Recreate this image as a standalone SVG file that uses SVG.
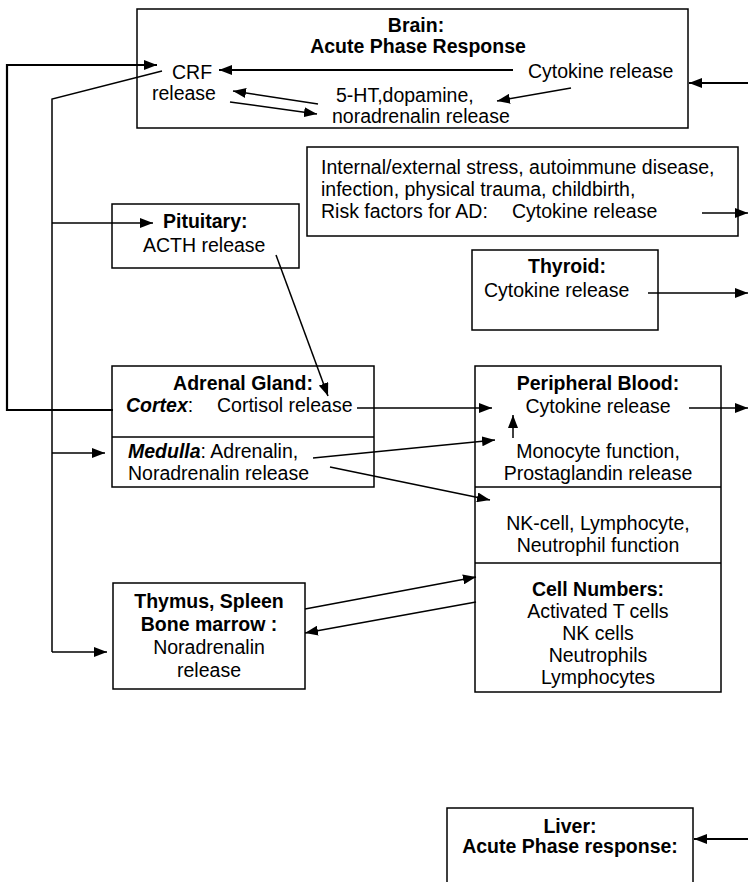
<svg xmlns="http://www.w3.org/2000/svg" width="748" height="882" viewBox="0 0 748 882">
<defs>
<marker id="ah" markerWidth="13" markerHeight="10" refX="13" refY="5" orient="auto" markerUnits="userSpaceOnUse">
<path d="M0,0 L13,5 L0,10 z" fill="#000"/>
</marker>
<style>
text{font-family:"Liberation Sans",Arial,sans-serif;font-size:19.5px;fill:#000}
.b{font-weight:bold}
.bi{font-weight:bold;font-style:italic}
.c{text-anchor:middle}
.box{fill:#fff;stroke:#000;stroke-width:1.5}
.div{stroke:#000;stroke-width:1.5}
.ln{fill:none;stroke:#000;stroke-width:1.5}
.th{fill:none;stroke:#000;stroke-width:2.2}
.a{marker-end:url(#ah)}
</style>
</defs>
<rect width="748" height="882" fill="#fff"/>

<g id="brain">
<rect class="box" x="137" y="9" width="551" height="119"/>
<text class="b c" x="416" y="32">Brain:</text>
<text class="b c" x="418" y="53">Acute Phase Response</text>
<text x="172" y="79">CRF</text>
<text x="152" y="100">release</text>
<text x="528" y="78">Cytokine release</text>
<text x="336" y="102">5-HT,dopamine,</text>
<text x="332" y="123">noradrenalin release</text>
</g>

<g id="stressors">
<rect class="box" x="307" y="147" width="431" height="89"/>
<text x="321" y="174">Internal/external stress, autoimmune disease,</text>
<text x="321" y="196">infection, physical trauma, childbirth,</text>
<text x="321" y="218">Risk factors for AD:</text>
<text x="512" y="218">Cytokine release</text>
</g>

<g id="pituitary">
<rect class="box" x="112" y="204" width="187" height="64"/>
<text class="b" x="163" y="228">Pituitary:</text>
<text x="143" y="252">ACTH release</text>
</g>

<g id="thyroid">
<rect class="box" x="472" y="250" width="186" height="80"/>
<text class="b c" x="567" y="273">Thyroid:</text>
<text x="484" y="297">Cytokine release</text>
</g>

<g id="adrenal">
<rect class="box" x="112" y="366" width="262" height="121"/>
<line class="div" x1="112" y1="437" x2="374" y2="437"/>
<text class="b c" x="243" y="390">Adrenal Gland:</text>
<text x="126" y="412"><tspan class="bi">Cortex</tspan>:</text>
<text x="217" y="412">Cortisol release</text>
<text x="128" y="458"><tspan class="bi">Medulla</tspan>: Adrenalin,</text>
<text x="128" y="480">Noradrenalin release</text>
</g>

<g id="blood">
<rect class="box" x="475" y="366" width="246" height="326"/>
<line class="div" x1="475" y1="487" x2="721" y2="487"/>
<line class="div" x1="475" y1="563" x2="721" y2="563"/>
<text class="b c" x="598" y="390">Peripheral Blood:</text>
<text class="c" x="598" y="413">Cytokine release</text>
<text class="c" x="598" y="458">Monocyte function,</text>
<text class="c" x="598" y="480">Prostaglandin release</text>
<text class="c" x="598" y="530">NK-cell, Lymphocyte,</text>
<text class="c" x="598" y="552">Neutrophil function</text>
<text class="b c" x="598" y="596">Cell Numbers:</text>
<text class="c" x="598" y="618">Activated T cells</text>
<text class="c" x="598" y="640">NK cells</text>
<text class="c" x="598" y="662">Neutrophils</text>
<text class="c" x="598" y="684">Lymphocytes</text>
</g>

<g id="thymus">
<rect class="box" x="113" y="583" width="192" height="106"/>
<text class="b c" x="209" y="608">Thymus, Spleen</text>
<text class="b c" x="209" y="631">Bone marrow :</text>
<text class="c" x="209" y="654">Noradrenalin</text>
<text class="c" x="209" y="677">release</text>
</g>

<g id="liver">
<rect class="box" x="447" y="808" width="246" height="100"/>
<text class="b c" x="570" y="833">Liver:</text>
<text class="b c" x="570" y="853">Acute Phase response:</text>
</g>

<g id="connectors">
<path class="th a" d="M113,410 H7 V65 H157"/>
<path class="ln" d="M162,71 L52,99 V652"/>
<path class="ln a" d="M52,652 H107"/>
<path class="ln a" d="M52,223 H153"/>
<path class="ln a" d="M52,453 H105"/>
<path class="th a" d="M513,70 H219"/>
<path class="ln a" d="M571,88 L497,101"/>
<path class="ln a" d="M318,104 L233,91"/>
<path class="ln a" d="M230,102 L317,114"/>
<path class="th a" d="M748,83 H689"/>
<path class="ln a" d="M702,213 H748"/>
<path class="ln a" d="M648,293 H748"/>
<path class="ln a" d="M276,255 L328,396"/>
<path class="ln a" d="M357,408 H492"/>
<path class="ln a" d="M689,408 H748"/>
<path class="ln a" d="M513,438 V415"/>
<path class="ln a" d="M313,458 L495,440"/>
<path class="ln a" d="M330,467 L490,500"/>
<path class="ln a" d="M305,609 L476,577"/>
<path class="ln a" d="M476,602 L305,633"/>
<path class="th a" d="M748,839 H694"/>
</g>
</svg>
